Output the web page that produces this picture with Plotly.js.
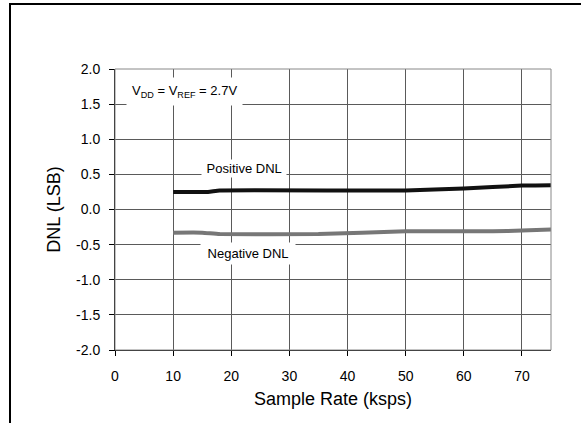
<!DOCTYPE html>
<html>
<head>
<meta charset="utf-8">
<script src="https://cdn.plot.ly/plotly-3.0.1.min.js"></script>
<style>
  html, body { margin: 0; padding: 0; background: #fff; overflow: hidden; }
  #frame { position: absolute; left: 9px; top: 3px; width: 700px; height: 600px;
           border-left: 2px solid #000; border-top: 2px solid #000; }
  #chart { position: absolute; left: 0; top: 0; width: 581px; height: 423px; }
</style>
</head>
<body>
<div id="frame"></div>
<div id="chart"></div>
<script>
// Data
const sampleRatePos = [10, 16, 18, 50, 60, 70, 75];
const positiveDNL   = [0.25, 0.25, 0.27, 0.27, 0.30, 0.34, 0.345];
const sampleRateNeg = [10, 15, 18, 35, 50, 65, 70, 75];
const negativeDNL   = [-0.33, -0.33, -0.35, -0.35, -0.31, -0.31, -0.30, -0.285];

const xTickVals = [0, 10, 20, 30, 40, 50, 60, 70];
const xTickText = ['0', '10', '20', '30', '40', '50', '60', '70'];
const yTickVals = [-2.0, -1.5, -1.0, -0.5, 0.0, 0.5, 1.0, 1.5, 2.0];
const yTickText = ['-2.0', '-1.5', '-1.0', '-0.5', '0.0', '0.5', '1.0', '1.5', '2.0'];

const font = 'Arial, "Liberation Sans", sans-serif';

const traces = [
  { x: sampleRatePos, y: positiveDNL, mode: 'lines', name: 'Positive DNL',
    line: { color: '#111111', width: 4, shape: 'spline', smoothing: 0.4 }, hoverinfo: 'skip' },
  { x: sampleRateNeg, y: negativeDNL, mode: 'lines', name: 'Negative DNL',
    line: { color: '#777777', width: 4, shape: 'spline', smoothing: 0.4 }, hoverinfo: 'skip' }
];

const layout = {
  width: 581, height: 423,
  margin: { l: 115, r: 30, t: 69, b: 73, pad: 0 },
  paper_bgcolor: 'rgba(0,0,0,0)', plot_bgcolor: '#ffffff',
  showlegend: false,
  font: { family: font, color: '#000' },
  xaxis: {
    range: [0, 75], tickmode: 'array', tickvals: xTickVals, ticktext: xTickText,
    ticks: 'outside', ticklen: 5, tickcolor: '#000',
    showline: true, linecolor: '#000', linewidth: 1,
    showgrid: true, gridcolor: '#5a5a5a', gridwidth: 1, zeroline: false,
    tickfont: { size: 14, family: font, color: '#000' }, ticklabelstandoff: 8,
    title: { text: 'Sample Rate (ksps)', font: { size: 18, family: font, color: '#000' }, standoff: 9 },
    fixedrange: true
  },
  yaxis: {
    range: [-2, 2], tickmode: 'array', tickvals: yTickVals, ticktext: yTickText,
    ticks: 'outside', ticklen: 5, tickcolor: '#000',
    showline: true, linecolor: '#000', linewidth: 1,
    showgrid: true, gridcolor: '#5a5a5a', gridwidth: 1, zeroline: false,
    tickfont: { size: 14, family: font, color: '#000' }, ticklabelstandoff: 6,
    title: { text: 'DNL (LSB)', font: { size: 18, family: font, color: '#000' }, standoff: 10 },
    fixedrange: true
  },
  shapes: [
    { type: 'rect', xref: 'paper', yref: 'paper', x0: 0, x1: 1, y0: 0, y1: 1,
      line: { color: '#888888', width: 1 }, fillcolor: 'rgba(0,0,0,0)', layer: 'above' }
  ],
  annotations: [
    { x: 12.0, y: 1.68, xref: 'x', yref: 'y', showarrow: false,
      text: 'V<sub>DD</sub> = V<sub>REF</sub> = 2.7V', font: { size: 13, family: font, color: '#000' },
      bgcolor: '#ffffff', borderpad: 5 },
    { x: 22.2, y: 0.59, xref: 'x', yref: 'y', showarrow: false,
      text: ' Positive DNL ', font: { size: 13, family: font, color: '#000' },
      bgcolor: '#ffffff', borderpad: 1 },
    { x: 22.9, y: -0.63, xref: 'x', yref: 'y', showarrow: false,
      text: ' Negative DNL ', font: { size: 13, family: font, color: '#000' },
      bgcolor: '#ffffff', borderpad: 3 }
  ]
};

Plotly.newPlot('chart', traces, layout, { staticPlot: true, displayModeBar: false });
</script>
</body>
</html>
